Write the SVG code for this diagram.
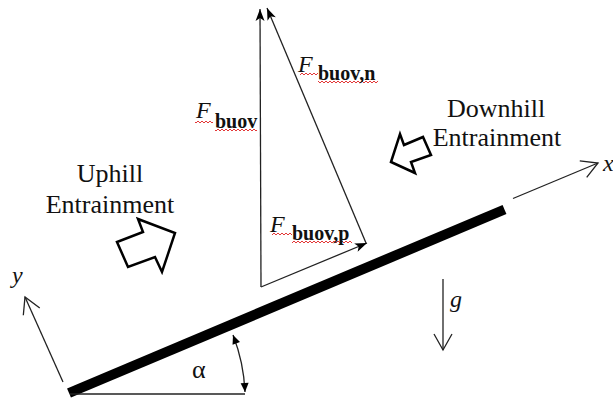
<svg xmlns="http://www.w3.org/2000/svg" width="613" height="401" viewBox="0 0 613 401" font-family="'Liberation Serif', 'Times New Roman', 'DejaVu Serif', serif">
<style>
.ln{stroke:#222;stroke-width:1.3;fill:none}
text{font-family:'Liberation Serif','Times New Roman','DejaVu Serif',serif;fill:#111}
.lbl{font-size:26px;text-anchor:middle}
.it{font-style:italic;font-size:24px}
.sub{font-weight:bold;font-size:20px}
.blk{fill:#fff;stroke:#000;stroke-width:2.5;stroke-linejoin:miter}
</style>
<defs>
<marker id="fa" markerUnits="userSpaceOnUse" orient="auto" refX="0" refY="0" markerWidth="20" markerHeight="20" overflow="visible">
<path d="M-12,-4.5 L0,0 L-12,4.5 L-9,0 z" fill="#000"/>
</marker>
<marker id="sa" markerUnits="userSpaceOnUse" orient="auto-start-reverse" refX="0" refY="0" markerWidth="20" markerHeight="20" overflow="visible">
<path d="M-9,-4 L0,0 L-9,4 z" fill="#000"/>
</marker>
<marker id="oa" markerUnits="userSpaceOnUse" orient="auto" refX="0" refY="0" markerWidth="30" markerHeight="30" overflow="visible">
<path d="M-16,-9 L0,0 L-16,9" fill="none" stroke="#222" stroke-width="1.3"/>
</marker>
<pattern id="sq" width="4" height="4" patternUnits="userSpaceOnUse">
<path d="M0,3 L2,1 L4,3" fill="none" stroke="#e02020" stroke-width="0.9"/>
</pattern>
</defs>

<g id="incline">
<line x1="69" y1="393" x2="504.5" y2="209.5" stroke="#000" stroke-width="10"/>
<line x1="70" y1="394" x2="245" y2="394" class="ln"/>
</g>

<g id="connectors">
<line id="x-axis" x1="513" y1="198.5" x2="598" y2="163" class="ln" marker-end="url(#oa)"/>
<line id="y-axis" x1="63" y1="382" x2="25" y2="297" class="ln" marker-end="url(#oa)"/>
<line id="g-arrow" x1="443" y1="279" x2="443" y2="350" class="ln" marker-end="url(#oa)"/>
<path id="alpha-arc" d="M233,335 A176,176 0 0 1 245,392" class="ln" marker-start="url(#sa)" marker-end="url(#sa)"/>
<line id="f-buov" x1="261" y1="287" x2="260" y2="9" class="ln" marker-end="url(#fa)"/>
<line id="f-buov-n" x1="366" y1="243" x2="267" y2="8" class="ln" marker-end="url(#fa)"/>
<line id="f-buov-p" x1="261" y1="287" x2="367" y2="243" class="ln" marker-end="url(#fa)"/>
</g>

<g id="uphill">
<polygon class="blk" points="117,242 128,267 155,257 162,272 175,233 138,219 143,232"/>
<text class="lbl" x="110" y="182">Uphill</text>
<text class="lbl" x="110" y="213">Entrainment</text>
</g>

<g id="downhill">
<polygon class="blk" points="391,162 400,134 404,145 423,137 431,155 411,162 415,173"/>
<text class="lbl" x="496" y="117">Downhill</text>
<text class="lbl" x="497" y="146">Entrainment</text>
</g>

<g id="label-fbuov">
<rect x="195" y="120" width="18" height="4" fill="url(#sq)"/>
<rect x="215" y="129" width="42" height="4" fill="url(#sq)"/>
<text class="it" x="196" y="118">F</text>
<text class="sub" x="215" y="128">buov</text>
</g>

<g id="label-fbuovn">
<rect x="300" y="73" width="18" height="4" fill="url(#sq)"/>
<rect x="318" y="81" width="60" height="4" fill="url(#sq)"/>
<text class="it" x="298" y="72">F</text>
<text class="sub" x="318" y="80">buov,n</text>
</g>

<g id="label-fbuovp">
<rect x="272" y="231" width="20" height="4" fill="url(#sq)"/>
<rect x="292" y="240" width="60" height="4" fill="url(#sq)"/>
<text class="it" x="270" y="232">F</text>
<text class="sub" x="292" y="240">buov,p</text>
</g>

<g id="axis-labels">
<text class="it" x="603" y="171">x</text>
<text class="it" x="12" y="283">y</text>
<text class="it" x="450" y="307">g</text>
<text x="192" y="378" font-size="26">α</text>
</g>
</svg>
